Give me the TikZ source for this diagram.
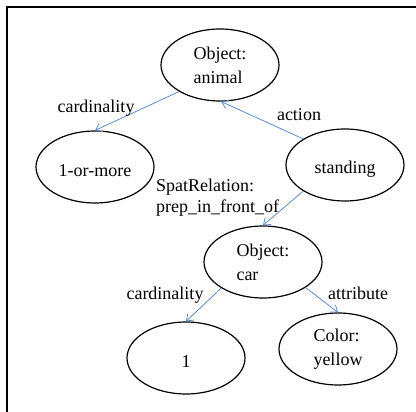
\documentclass[tikz,border=0pt]{standalone}
\usepackage{fontspec}
\setmainfont{Liberation Serif}
\usetikzlibrary{shapes.geometric,arrows.meta}
\definecolor{linkblue}{RGB}{95,140,200}
% single-line labels sit a little below the middle of their ellipse
\newcommand{\lowered}[1]{\raisebox{-4pt}[\height][\depth]{#1}}
\tikzset{
  concept/.style={ellipse, draw=black, line width=1.2pt, minimum width=118pt,
    minimum height=72pt, inner sep=0pt, align=left,
    font=\fontsize{18}{24}\selectfont},
  link/.style={draw=linkblue, line width=0.8pt,
    -{Straight Barb[length=6pt,width=9pt,line width=0.8pt]}},
  tag/.style={inner sep=0pt, align=left, font=\fontsize{18}{21}\selectfont}
}
\begin{document}
\begin{tikzpicture}[x=1pt,y=-1pt]
  \useasboundingbox (0,0) rectangle (416,412);
  % frame edges
  \draw[line width=2.2pt] (7,412) -- (7,7) -- (416,7);

  % concept nodes
  \node[concept] (animal) at (220,65) {Object:\\animal};
  \node[concept] (more)   at (95,167) {\lowered{1-or-more}};
  \node[concept] (stand)  at (345,165) {\lowered{standing}};
  \node[concept] (car)    at (263,262) {Object:\\car};
  \node[concept] (one)    at (186,358) {\lowered{1}};
  \node[concept] (color)  at (338,349) {Color:\\yellow};

  % relations
  \draw[link] (animal.213) -- (more.north);
  \draw[link] (stand.148) -- (animal.272);
  \draw[link] (stand.212) -- (car.north);
  \draw[link] (car.212) -- (one.north);
  \draw[link] (car.329) -- (color.north);

  % relation labels
  \node[tag] (l1) at (96,108) {cardinality};
  \node[tag] (l2) at (299,115) {action};
  \node[tag, anchor=west] (l3) at (156,198) {SpatRelation:\\prep\_in\_front\_of};
  \node[tag] (l4) at (165,295) {cardinality};
  \node[tag] (l5) at (358,293) {attribute};
\end{tikzpicture}
\end{document}
